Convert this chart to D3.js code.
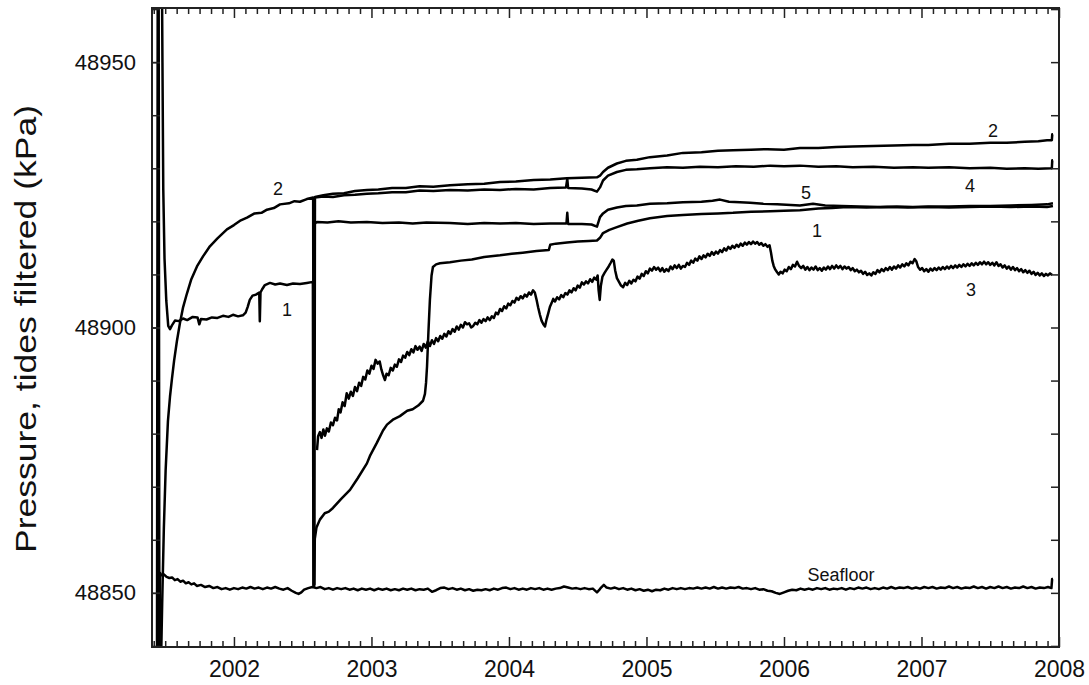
<!DOCTYPE html>
<html>
<head>
<meta charset="utf-8">
<script src="https://cdn.jsdelivr.net/npm/d3@7"></script>
<style>
  body { margin: 0; background: #fff; }
  svg { display: block; }
  text { font-family: "Liberation Sans", Arial, Helvetica, sans-serif; fill: #111; }
</style>
</head>
<body>
<svg id="chart" width="1089" height="685"></svg>
<script>
// ---- Axis ticks -------------------------------------------------------
const yearTicks = [2002, 2003, 2004, 2005, 2006, 2007, 2008];
const yearLabels = ["2002", "2003", "2004", "2005", "2006", "2007", "2008"];
const pressureTicks = [48850, 48900, 48950];
const pressureLabels = ["48850", "48900", "48950"];
const yTitle = "Pressure, tides filtered (kPa)";

// ---- Series: [decimal year, pressure kPa] ------------------------------
const seafloor = [
  [2001.440, 48830], [2001.446, 48975], [2001.452, 48975], [2001.458, 48830],
  [2001.462, 48853.8], [2001.47, 48853.3], [2001.49, 48853.5], [2001.51, 48853.0],
  [2001.53, 48852.8], [2001.55, 48852.9], [2001.57, 48852.4], [2001.59, 48852.6],
  [2001.61, 48852.1], [2001.63, 48852.3], [2001.65, 48851.8], [2001.67, 48852.0],
  [2001.69, 48851.6], [2001.71, 48851.8], [2001.73, 48851.3], [2001.76, 48851.5],
  [2001.79, 48851.1], [2001.82, 48851.3], [2001.85, 48850.9], [2001.88, 48851.1],
  [2001.91, 48850.7], [2001.94, 48850.9], [2001.97, 48850.6], [2002.00, 48850.9],
  [2002.03, 48850.7], [2002.06, 48851.0], [2002.09, 48850.8], [2002.12, 48851.1],
  [2002.15, 48850.8], [2002.18, 48851.0], [2002.21, 48850.7], [2002.24, 48851.0],
  [2002.27, 48850.8], [2002.30, 48851.1], [2002.33, 48850.8], [2002.36, 48850.6],
  [2002.39, 48850.9], [2002.42, 48850.4], [2002.45, 48850.0], [2002.47, 48849.8],
  [2002.49, 48850.1], [2002.51, 48850.6], [2002.54, 48850.9], [2002.57, 48851.1],
  [2002.60, 48850.9], [2002.63, 48851.1], [2002.66, 48850.7], [2002.69, 48850.9],
  [2002.72, 48850.6], [2002.75, 48850.9], [2002.78, 48850.7], [2002.81, 48850.9],
  [2002.84, 48850.6], [2002.87, 48850.8], [2002.90, 48850.5], [2002.93, 48850.8],
  [2002.96, 48850.6], [2002.99, 48850.8], [2003.02, 48850.5], [2003.05, 48850.8],
  [2003.08, 48850.6], [2003.11, 48850.8], [2003.14, 48850.5], [2003.17, 48850.7],
  [2003.20, 48850.5], [2003.23, 48850.8], [2003.26, 48850.6], [2003.29, 48850.8],
  [2003.32, 48850.5], [2003.35, 48850.7], [2003.38, 48850.6], [2003.41, 48850.8],
  [2003.44, 48850.2], [2003.47, 48850.5], [2003.50, 48850.9], [2003.53, 48851.0],
  [2003.56, 48850.7], [2003.59, 48850.9], [2003.62, 48850.6], [2003.65, 48850.8],
  [2003.68, 48850.5], [2003.71, 48850.7], [2003.74, 48850.4], [2003.77, 48850.6],
  [2003.80, 48850.5], [2003.83, 48850.7], [2003.86, 48850.5], [2003.89, 48850.8],
  [2003.92, 48850.6], [2003.95, 48850.9], [2003.98, 48851.0], [2004.01, 48850.7],
  [2004.04, 48850.9], [2004.07, 48850.6], [2004.10, 48850.8], [2004.13, 48850.6],
  [2004.16, 48850.9], [2004.19, 48850.7], [2004.22, 48850.9], [2004.25, 48850.6],
  [2004.28, 48850.8], [2004.31, 48850.6], [2004.34, 48850.8], [2004.37, 48850.9],
  [2004.40, 48851.2], [2004.43, 48851.0], [2004.46, 48850.8], [2004.49, 48850.9],
  [2004.52, 48850.7], [2004.55, 48850.9], [2004.58, 48850.7], [2004.61, 48850.8],
  [2004.64, 48850.1], [2004.655, 48850.5], [2004.67, 48851.0], [2004.69, 48851.5],
  [2004.71, 48851.0], [2004.74, 48850.8], [2004.77, 48851.0], [2004.80, 48850.7],
  [2004.83, 48850.9], [2004.86, 48850.6], [2004.89, 48850.8], [2004.92, 48850.5],
  [2004.95, 48850.7], [2004.98, 48850.4], [2005.01, 48850.6], [2005.04, 48850.3],
  [2005.07, 48850.6], [2005.10, 48850.5], [2005.13, 48850.8], [2005.16, 48850.6],
  [2005.19, 48850.9], [2005.22, 48850.7], [2005.25, 48850.9], [2005.28, 48850.7],
  [2005.31, 48850.9], [2005.34, 48850.8], [2005.37, 48851.0], [2005.40, 48850.8],
  [2005.43, 48851.0], [2005.46, 48850.8], [2005.49, 48851.1], [2005.52, 48850.8],
  [2005.55, 48851.0], [2005.58, 48850.8], [2005.61, 48851.0], [2005.64, 48850.9],
  [2005.67, 48851.1], [2005.70, 48850.8], [2005.73, 48850.9], [2005.76, 48850.7],
  [2005.79, 48850.9], [2005.82, 48850.6], [2005.85, 48850.7], [2005.88, 48850.4],
  [2005.91, 48850.3], [2005.94, 48850.0], [2005.97, 48849.8], [2006.00, 48850.1],
  [2006.03, 48850.4], [2006.06, 48850.6], [2006.09, 48850.5], [2006.12, 48850.8],
  [2006.15, 48850.6], [2006.18, 48850.8], [2006.21, 48850.6], [2006.24, 48850.9],
  [2006.27, 48850.7], [2006.30, 48850.9], [2006.33, 48850.6], [2006.36, 48850.8],
  [2006.39, 48850.7], [2006.42, 48850.9], [2006.45, 48850.6], [2006.48, 48850.9],
  [2006.51, 48850.7], [2006.54, 48851.0], [2006.57, 48850.8], [2006.60, 48851.0],
  [2006.63, 48850.7], [2006.66, 48850.9], [2006.69, 48850.7], [2006.72, 48851.0],
  [2006.75, 48850.8], [2006.78, 48851.1], [2006.81, 48850.8], [2006.84, 48851.0],
  [2006.87, 48850.9], [2006.90, 48851.1], [2006.93, 48850.8], [2006.96, 48851.0],
  [2006.99, 48850.8], [2007.02, 48851.1], [2007.05, 48850.9], [2007.08, 48851.1],
  [2007.11, 48850.8], [2007.14, 48851.0], [2007.17, 48850.9], [2007.20, 48851.2],
  [2007.23, 48850.9], [2007.26, 48851.1], [2007.29, 48850.8], [2007.32, 48851.0],
  [2007.35, 48850.9], [2007.38, 48851.2], [2007.41, 48850.9], [2007.44, 48851.1],
  [2007.47, 48850.8], [2007.50, 48851.1], [2007.53, 48850.9], [2007.56, 48851.2],
  [2007.59, 48850.9], [2007.62, 48851.1], [2007.65, 48850.8], [2007.68, 48851.0],
  [2007.71, 48850.9], [2007.74, 48851.2], [2007.77, 48850.9], [2007.80, 48851.1],
  [2007.83, 48850.8], [2007.86, 48851.0], [2007.89, 48850.9], [2007.92, 48851.1],
  [2007.945, 48850.9], [2007.950, 48852.6], [2007.956, 48852.6]
];

const hole1 = [
  [2001.474, 48975], [2001.480, 48950], [2001.486, 48926], [2001.495, 48913],
  [2001.508, 48905], [2001.522, 48900.3], [2001.535, 48899.7], [2001.549, 48900.4],
  [2001.571, 48901.3], [2001.600, 48901.2], [2001.630, 48901.7], [2001.660, 48901.4],
  [2001.700, 48902.0], [2001.735, 48901.9], [2001.748, 48900.6], [2001.760, 48901.6],
  [2001.800, 48901.5], [2001.840, 48901.9], [2001.880, 48901.8], [2001.920, 48902.2],
  [2001.960, 48902.0], [2001.993, 48902.4], [2002.030, 48902.1], [2002.065, 48902.3],
  [2002.085, 48902.8], [2002.100, 48903.9], [2002.115, 48905.2], [2002.135, 48906.0],
  [2002.160, 48906.2], [2002.184, 48906.6], [2002.188, 48901.2], [2002.193, 48906.6],
  [2002.205, 48907.2], [2002.225, 48908.0], [2002.262, 48908.4], [2002.300, 48908.1],
  [2002.335, 48908.3], [2002.385, 48908.0], [2002.430, 48908.3], [2002.480, 48908.2],
  [2002.530, 48908.4], [2002.574, 48908.6], [2002.578, 48851.2], [2002.583, 48851.2],
  [2002.588, 48860.2], [2002.600, 48862.3], [2002.625, 48863.8], [2002.660, 48865.0],
  [2002.690, 48865.3], [2002.720, 48866.0], [2002.780, 48867.7], [2002.844, 48869.4],
  [2002.900, 48871.6], [2002.967, 48874.4], [2002.989, 48875.8], [2003.040, 48878.3],
  [2003.084, 48880.6], [2003.113, 48881.7], [2003.160, 48882.7], [2003.207, 48883.3],
  [2003.260, 48884.3], [2003.300, 48884.6], [2003.340, 48885.3], [2003.375, 48886.2],
  [2003.389, 48887.5], [2003.397, 48889.6], [2003.404, 48892.6], [2003.414, 48899.0],
  [2003.425, 48905.2], [2003.437, 48909.8], [2003.447, 48911.4], [2003.470, 48911.9],
  [2003.498, 48912.1], [2003.571, 48912.3], [2003.650, 48912.6], [2003.730, 48912.8],
  [2003.820, 48913.3], [2003.935, 48913.6], [2004.020, 48913.9], [2004.100, 48914.1],
  [2004.200, 48914.4], [2004.290, 48914.6], [2004.300, 48915.6], [2004.340, 48915.8],
  [2004.422, 48916.0], [2004.500, 48916.2], [2004.580, 48916.3], [2004.640, 48916.4],
  [2004.662, 48916.9], [2004.684, 48917.8], [2004.730, 48918.4], [2004.785, 48918.9],
  [2004.860, 48919.6], [2004.940, 48920.1], [2005.025, 48920.6], [2005.150, 48921.0],
  [2005.265, 48921.2], [2005.400, 48921.4], [2005.520, 48921.5], [2005.629, 48921.6],
  [2005.760, 48921.8], [2005.900, 48921.9], [2006.000, 48922.0], [2006.116, 48922.1],
  [2006.250, 48922.4], [2006.350, 48922.5], [2006.458, 48922.7], [2006.600, 48922.6],
  [2006.750, 48922.7], [2006.900, 48922.6], [2007.050, 48922.7], [2007.200, 48922.6],
  [2007.350, 48922.7], [2007.500, 48922.8], [2007.650, 48922.7], [2007.800, 48922.8],
  [2007.913, 48922.7], [2007.956, 48922.9]
];

const hole2 = [
  [2001.466, 48832], [2001.478, 48848], [2001.490, 48862], [2001.503, 48873],
  [2001.520, 48882.4], [2001.535, 48887.0], [2001.549, 48890.3], [2001.565, 48893.8],
  [2001.585, 48897.4], [2001.607, 48900.8], [2001.630, 48903.8], [2001.658, 48906.4],
  [2001.690, 48909.1], [2001.731, 48911.5], [2001.775, 48913.4], [2001.825, 48915.3],
  [2001.880, 48916.8], [2001.949, 48918.5], [2002.000, 48919.3], [2002.050, 48920.2],
  [2002.095, 48920.7], [2002.150, 48921.5], [2002.200, 48921.6], [2002.240, 48922.2],
  [2002.290, 48922.5], [2002.335, 48923.2], [2002.400, 48923.4], [2002.440, 48923.8],
  [2002.480, 48923.7], [2002.530, 48924.2], [2002.576, 48924.5], [2002.580, 48851.6],
  [2002.585, 48851.6], [2002.589, 48924.6], [2002.650, 48924.9], [2002.720, 48925.2],
  [2002.800, 48925.3], [2002.880, 48925.7], [2002.967, 48925.9], [2003.050, 48926.0],
  [2003.150, 48926.3], [2003.250, 48926.3], [2003.350, 48926.6], [2003.450, 48926.5],
  [2003.571, 48926.8], [2003.700, 48927.0], [2003.820, 48927.1], [2003.935, 48927.4],
  [2004.050, 48927.5], [2004.180, 48927.8], [2004.300, 48927.9], [2004.420, 48928.1],
  [2004.530, 48928.2], [2004.640, 48928.3], [2004.662, 48928.6], [2004.684, 48929.3],
  [2004.720, 48930.1], [2004.785, 48930.9], [2004.850, 48931.4], [2004.930, 48931.6],
  [2005.025, 48932.1], [2005.150, 48932.4], [2005.265, 48932.9], [2005.400, 48933.0],
  [2005.520, 48933.3], [2005.629, 48933.4], [2005.760, 48933.5], [2005.880, 48933.6],
  [2006.000, 48933.5], [2006.116, 48933.8], [2006.250, 48933.8], [2006.380, 48934.0],
  [2006.500, 48934.1], [2006.650, 48934.2], [2006.800, 48934.3], [2006.938, 48934.4],
  [2007.050, 48934.4], [2007.200, 48934.6], [2007.350, 48934.6], [2007.500, 48934.8],
  [2007.620, 48934.8], [2007.750, 48935.0], [2007.850, 48935.1], [2007.913, 48935.3],
  [2007.948, 48935.3], [2007.951, 48936.4], [2007.956, 48936.4]
];

const hole3 = [
  [2002.604, 48876.9], [2002.612, 48879.5], [2002.625, 48880.3], [2002.637, 48879.2],
  [2002.650, 48880.8], [2002.662, 48879.6], [2002.676, 48881.0], [2002.690, 48880.4],
  [2002.705, 48882.1], [2002.720, 48881.6], [2002.735, 48883.0], [2002.750, 48882.5],
  [2002.762, 48884.6], [2002.775, 48884.0], [2002.790, 48885.9], [2002.805, 48885.2],
  [2002.820, 48887.6], [2002.835, 48886.6], [2002.850, 48887.9], [2002.865, 48887.1],
  [2002.880, 48888.8], [2002.895, 48888.0], [2002.910, 48889.6], [2002.925, 48889.0],
  [2002.940, 48890.7], [2002.955, 48890.2], [2002.970, 48891.9], [2002.985, 48891.3],
  [2003.000, 48892.8], [2003.015, 48892.2], [2003.030, 48893.9], [2003.045, 48893.2],
  [2003.060, 48893.6], [2003.072, 48892.1], [2003.085, 48891.0], [2003.098, 48890.1],
  [2003.110, 48891.3], [2003.125, 48891.0], [2003.140, 48892.4], [2003.155, 48891.9],
  [2003.170, 48893.0], [2003.185, 48892.6], [2003.200, 48894.0], [2003.215, 48893.5],
  [2003.230, 48894.7], [2003.245, 48894.3], [2003.260, 48895.4], [2003.275, 48894.8],
  [2003.290, 48895.9], [2003.305, 48895.3], [2003.320, 48896.5], [2003.335, 48895.8],
  [2003.350, 48896.4], [2003.365, 48895.6], [2003.380, 48896.9], [2003.395, 48896.2],
  [2003.410, 48897.4], [2003.425, 48896.5], [2003.440, 48897.6], [2003.455, 48896.9],
  [2003.470, 48898.0], [2003.485, 48897.4], [2003.500, 48898.4], [2003.515, 48897.9],
  [2003.530, 48898.8], [2003.545, 48898.3], [2003.560, 48899.3], [2003.575, 48898.8],
  [2003.590, 48899.7], [2003.605, 48899.2], [2003.620, 48900.2], [2003.635, 48899.6],
  [2003.650, 48900.5], [2003.665, 48900.0], [2003.680, 48901.0], [2003.695, 48900.6],
  [2003.710, 48900.8], [2003.725, 48900.0], [2003.740, 48900.3], [2003.755, 48900.9],
  [2003.770, 48900.6], [2003.785, 48901.4], [2003.800, 48900.9], [2003.815, 48901.6],
  [2003.830, 48901.2], [2003.845, 48901.9], [2003.860, 48901.4], [2003.875, 48902.1],
  [2003.890, 48901.8], [2003.905, 48902.8], [2003.920, 48902.5], [2003.935, 48903.5],
  [2003.950, 48903.1], [2003.965, 48904.0], [2003.980, 48903.6], [2003.995, 48904.5],
  [2004.010, 48904.2], [2004.025, 48905.0], [2004.040, 48904.7], [2004.055, 48905.6],
  [2004.070, 48905.2], [2004.085, 48905.9], [2004.100, 48905.5], [2004.115, 48906.2],
  [2004.130, 48905.8], [2004.145, 48906.6], [2004.160, 48906.2], [2004.175, 48907.0],
  [2004.188, 48906.6], [2004.200, 48905.3], [2004.212, 48903.8], [2004.225, 48902.4],
  [2004.237, 48901.3], [2004.250, 48900.6], [2004.262, 48900.2], [2004.273, 48901.5],
  [2004.285, 48902.6], [2004.298, 48903.9], [2004.310, 48904.6], [2004.322, 48905.4],
  [2004.335, 48904.9], [2004.350, 48905.7], [2004.365, 48905.3], [2004.380, 48906.1],
  [2004.395, 48905.7], [2004.410, 48906.5], [2004.425, 48906.2], [2004.440, 48907.0],
  [2004.455, 48906.6], [2004.470, 48907.4], [2004.485, 48907.0], [2004.500, 48907.9],
  [2004.515, 48907.5], [2004.530, 48908.5], [2004.545, 48908.1], [2004.560, 48908.7],
  [2004.575, 48908.3], [2004.590, 48909.1], [2004.605, 48908.6], [2004.620, 48909.4],
  [2004.635, 48909.0], [2004.645, 48909.8], [2004.652, 48907.0], [2004.660, 48905.2],
  [2004.668, 48907.8], [2004.680, 48909.6], [2004.695, 48910.3], [2004.710, 48910.9],
  [2004.725, 48911.5], [2004.740, 48912.2], [2004.752, 48912.8], [2004.762, 48912.6],
  [2004.772, 48910.8], [2004.785, 48909.3], [2004.800, 48908.6], [2004.815, 48907.9],
  [2004.830, 48907.6], [2004.845, 48908.4], [2004.860, 48908.0], [2004.875, 48908.8],
  [2004.890, 48908.3], [2004.905, 48909.0], [2004.920, 48908.7], [2004.935, 48909.6],
  [2004.950, 48909.2], [2004.965, 48910.1], [2004.980, 48909.7], [2004.995, 48910.6],
  [2005.010, 48910.2], [2005.025, 48911.1], [2005.040, 48910.7], [2005.055, 48911.4],
  [2005.070, 48910.9], [2005.085, 48911.3], [2005.100, 48910.6], [2005.115, 48911.2],
  [2005.130, 48910.5], [2005.145, 48911.0], [2005.160, 48910.6], [2005.175, 48911.5],
  [2005.190, 48911.0], [2005.205, 48911.7], [2005.220, 48911.2], [2005.235, 48911.8],
  [2005.250, 48911.1], [2005.265, 48911.6], [2005.280, 48911.4], [2005.295, 48912.2],
  [2005.310, 48911.8], [2005.325, 48912.6], [2005.340, 48912.2], [2005.355, 48913.0],
  [2005.370, 48912.6], [2005.385, 48913.4], [2005.400, 48912.9], [2005.415, 48913.6],
  [2005.430, 48913.2], [2005.445, 48913.9], [2005.460, 48913.5], [2005.475, 48914.2],
  [2005.490, 48913.7], [2005.505, 48914.3], [2005.520, 48913.9], [2005.535, 48914.6],
  [2005.550, 48914.2], [2005.565, 48914.9], [2005.580, 48914.5], [2005.595, 48915.2],
  [2005.610, 48914.8], [2005.625, 48915.4], [2005.640, 48915.0], [2005.655, 48915.6],
  [2005.670, 48915.2], [2005.685, 48915.8], [2005.700, 48915.4], [2005.715, 48916.0],
  [2005.730, 48915.6], [2005.745, 48916.1], [2005.760, 48915.7], [2005.775, 48916.2],
  [2005.790, 48915.8], [2005.805, 48916.1], [2005.820, 48915.6], [2005.835, 48915.9],
  [2005.850, 48915.4], [2005.865, 48915.7], [2005.880, 48915.2], [2005.895, 48915.5],
  [2005.905, 48914.2], [2005.915, 48912.6], [2005.925, 48911.6], [2005.937, 48910.9],
  [2005.950, 48910.4], [2005.962, 48910.0], [2005.975, 48910.5], [2005.990, 48910.2],
  [2006.005, 48910.9], [2006.020, 48910.6], [2006.035, 48911.4], [2006.050, 48911.0],
  [2006.065, 48911.8], [2006.080, 48911.5], [2006.095, 48912.4], [2006.110, 48911.6],
  [2006.125, 48911.2], [2006.140, 48911.6], [2006.155, 48910.9], [2006.170, 48911.4],
  [2006.185, 48910.8], [2006.200, 48911.3], [2006.215, 48910.9], [2006.230, 48911.5],
  [2006.245, 48910.8], [2006.260, 48911.2], [2006.275, 48910.7], [2006.290, 48911.3],
  [2006.305, 48910.9], [2006.320, 48911.5], [2006.335, 48911.0], [2006.350, 48911.6],
  [2006.365, 48911.1], [2006.380, 48911.7], [2006.395, 48911.2], [2006.410, 48911.6],
  [2006.425, 48911.0], [2006.440, 48911.5], [2006.455, 48911.1], [2006.470, 48911.4],
  [2006.485, 48910.8], [2006.500, 48911.2], [2006.515, 48910.6], [2006.530, 48910.9],
  [2006.545, 48910.4], [2006.560, 48910.7], [2006.575, 48910.1], [2006.590, 48910.5],
  [2006.605, 48909.9], [2006.620, 48910.2], [2006.635, 48909.8], [2006.650, 48910.4],
  [2006.665, 48910.1], [2006.680, 48910.8], [2006.695, 48910.4], [2006.710, 48911.0],
  [2006.725, 48910.6], [2006.740, 48911.2], [2006.755, 48910.8], [2006.770, 48911.4],
  [2006.785, 48910.9], [2006.800, 48911.5], [2006.815, 48911.1], [2006.830, 48911.7],
  [2006.845, 48911.3], [2006.860, 48911.9], [2006.875, 48911.5], [2006.890, 48912.1],
  [2006.905, 48911.7], [2006.920, 48912.4], [2006.935, 48912.1], [2006.950, 48912.9],
  [2006.962, 48912.5], [2006.975, 48911.4], [2006.990, 48910.9], [2007.005, 48911.2],
  [2007.020, 48910.6], [2007.035, 48911.0], [2007.050, 48910.5], [2007.065, 48911.1],
  [2007.080, 48910.7], [2007.095, 48911.2], [2007.110, 48910.8], [2007.125, 48911.3],
  [2007.140, 48910.9], [2007.155, 48911.4], [2007.170, 48911.0], [2007.185, 48911.5],
  [2007.200, 48911.1], [2007.215, 48911.6], [2007.230, 48911.2], [2007.245, 48911.7],
  [2007.260, 48911.3], [2007.275, 48911.8], [2007.290, 48911.4], [2007.305, 48911.9],
  [2007.320, 48911.5], [2007.335, 48912.0], [2007.350, 48911.6], [2007.365, 48912.1],
  [2007.380, 48911.7], [2007.395, 48912.2], [2007.410, 48911.8], [2007.425, 48912.3],
  [2007.440, 48911.9], [2007.455, 48912.4], [2007.470, 48911.9], [2007.485, 48912.3],
  [2007.500, 48911.8], [2007.515, 48912.2], [2007.530, 48911.7], [2007.545, 48912.3],
  [2007.560, 48911.6], [2007.575, 48911.9], [2007.590, 48911.3], [2007.605, 48911.7],
  [2007.620, 48911.1], [2007.635, 48911.5], [2007.650, 48910.9], [2007.665, 48911.4],
  [2007.680, 48910.8], [2007.695, 48911.2], [2007.710, 48910.6], [2007.725, 48911.0],
  [2007.740, 48910.4], [2007.755, 48910.8], [2007.770, 48910.3], [2007.785, 48910.7],
  [2007.800, 48910.1], [2007.815, 48910.5], [2007.830, 48909.9], [2007.845, 48910.3],
  [2007.860, 48909.8], [2007.875, 48910.2], [2007.890, 48909.7], [2007.905, 48910.1],
  [2007.920, 48909.8], [2007.935, 48910.2], [2007.950, 48909.9]
];

const hole4 = [
  [2002.589, 48924.5], [2002.650, 48924.7], [2002.720, 48924.6], [2002.800, 48924.9],
  [2002.880, 48925.0], [2002.967, 48925.2], [2003.050, 48925.3], [2003.150, 48925.5],
  [2003.250, 48925.5], [2003.350, 48925.8], [2003.450, 48925.7], [2003.571, 48925.9],
  [2003.700, 48925.8], [2003.820, 48926.0], [2003.935, 48925.9], [2004.050, 48926.1],
  [2004.180, 48926.0], [2004.300, 48926.3], [2004.415, 48926.4], [2004.424, 48928.0],
  [2004.430, 48926.3], [2004.530, 48926.2], [2004.600, 48926.0], [2004.640, 48925.6],
  [2004.662, 48926.4], [2004.684, 48927.7], [2004.720, 48928.6], [2004.785, 48929.3],
  [2004.850, 48929.7], [2004.930, 48929.8], [2005.025, 48930.0], [2005.150, 48930.2],
  [2005.265, 48930.1], [2005.389, 48930.3], [2005.520, 48930.2], [2005.650, 48930.4],
  [2005.780, 48930.3], [2005.900, 48930.5], [2006.000, 48930.4], [2006.116, 48930.5],
  [2006.250, 48930.3], [2006.380, 48930.4], [2006.500, 48930.2], [2006.650, 48930.3],
  [2006.800, 48930.1], [2006.938, 48930.2], [2007.050, 48930.1], [2007.200, 48930.2],
  [2007.350, 48930.0], [2007.500, 48930.1], [2007.620, 48929.9], [2007.750, 48930.0],
  [2007.850, 48929.9], [2007.948, 48930.0], [2007.951, 48931.5], [2007.956, 48931.5]
];

const hole5 = [
  [2002.589, 48919.6], [2002.604, 48919.9], [2002.680, 48919.8], [2002.760, 48920.0],
  [2002.850, 48919.8], [2002.967, 48919.9], [2003.080, 48919.7], [2003.200, 48919.8],
  [2003.300, 48919.6], [2003.400, 48919.8], [2003.571, 48919.7], [2003.700, 48919.5],
  [2003.820, 48919.7], [2003.935, 48919.6], [2004.050, 48919.7], [2004.180, 48919.5],
  [2004.300, 48919.6], [2004.418, 48919.6], [2004.424, 48921.6], [2004.430, 48919.5],
  [2004.530, 48919.5], [2004.600, 48919.4], [2004.640, 48919.0], [2004.662, 48920.8],
  [2004.684, 48921.5], [2004.720, 48922.2], [2004.785, 48922.6], [2004.850, 48922.9],
  [2004.930, 48923.0], [2005.025, 48923.3], [2005.150, 48923.4], [2005.265, 48923.6],
  [2005.400, 48923.7], [2005.480, 48923.9], [2005.535, 48924.1], [2005.600, 48923.7],
  [2005.680, 48923.6], [2005.753, 48923.5], [2005.850, 48923.3], [2005.950, 48923.2],
  [2006.050, 48923.1], [2006.116, 48923.0], [2006.211, 48923.3], [2006.300, 48923.0],
  [2006.420, 48922.9], [2006.550, 48922.8], [2006.700, 48922.7], [2006.820, 48922.8],
  [2006.938, 48922.7], [2007.050, 48922.8], [2007.200, 48922.8], [2007.350, 48922.9],
  [2007.500, 48922.9], [2007.650, 48923.0], [2007.800, 48923.1], [2007.913, 48923.2],
  [2007.956, 48923.4]
];

// Curve labels: text, decimal year, pressure (kPa)
const curveLabels = [
  ["2", 2002.320, 48926.1],
  ["1", 2002.385, 48903.3],
  ["2", 2007.520, 48937.0],
  ["4", 2007.353, 48926.6],
  ["5", 2006.160, 48925.3],
  ["1", 2006.240, 48918.2],
  ["3", 2007.360, 48907.1],
  ["Seafloor", 2006.415, 48853.4]
];

// ---- Layout -----------------------------------------------------------
const svg = d3.select("#chart");
const box = { left: 152, right: 1059, top: 8, bottom: 647 };

const x = d3.scaleLinear().domain([2001.404, 2008]).range([box.left, box.right]);
const y = d3.scaleLinear().domain([48839.8, 48960.2]).range([box.bottom, box.top]);

svg.append("rect").attr("width", 1089).attr("height", 685).attr("fill", "#fff");

svg.append("clipPath").attr("id", "plot-clip")
  .append("rect")
  .attr("x", box.left).attr("y", box.top)
  .attr("width", box.right - box.left).attr("height", box.bottom - box.top);

// ---- Data curves ------------------------------------------------------
const line = d3.line().x(d => x(d[0])).y(d => y(d[1]));
const curves = svg.append("g").attr("clip-path", "url(#plot-clip)");
[seafloor, hole1, hole2, hole3, hole4, hole5].forEach(series => {
  curves.append("path")
    .datum(series)
    .attr("d", line)
    .attr("fill", "none")
    .attr("stroke", "#000")
    .attr("stroke-width", 2.5)
    .attr("stroke-linejoin", "round");
});

// ---- Axes (ticks point inward on all four sides) ----------------------
const [x0, x1] = x.domain();
const monthTicks = d3.range(2001 * 12, 2008 * 12)
  .map(m => m / 12)
  .filter(v => v > x0 && v < x1 && Math.abs(v - Math.round(v)) > 1e-6);
const tenTicks = d3.range(48840, 48961, 10).filter(v => v > y.domain()[0] && v < y.domain()[1]);

function styleAxis(g) {
  g.select(".domain").remove();
  g.selectAll(".tick line").attr("stroke", "#222").attr("stroke-width", 1.5);
}

// bottom
svg.append("g").attr("transform", `translate(0,${box.bottom})`)
  .call(d3.axisBottom(x).tickValues(monthTicks).tickSize(-6).tickFormat(""))
  .call(styleAxis);
svg.append("g").attr("transform", `translate(0,${box.bottom})`)
  .call(d3.axisBottom(x).tickValues(yearTicks).tickSize(-10).tickPadding(14)
    .tickFormat((d, i) => yearLabels[i]))
  .call(styleAxis)
  .call(g => g.selectAll("text").attr("font-size", 23).attr("fill", "#111"));

// top
svg.append("g").attr("transform", `translate(0,${box.top})`)
  .call(d3.axisTop(x).tickValues(monthTicks).tickSize(-6).tickFormat(""))
  .call(styleAxis);
svg.append("g").attr("transform", `translate(0,${box.top})`)
  .call(d3.axisTop(x).tickValues(yearTicks).tickSize(-10).tickFormat(""))
  .call(styleAxis);

// left
svg.append("g").attr("transform", `translate(${box.left},0)`)
  .call(d3.axisLeft(y).tickValues(tenTicks).tickSize(-8).tickFormat(""))
  .call(styleAxis);
svg.append("g").attr("transform", `translate(${box.left},0)`)
  .call(d3.axisLeft(y).tickValues(pressureTicks).tickSize(-8).tickPadding(16)
    .tickFormat((d, i) => pressureLabels[i]))
  .call(styleAxis)
  .call(g => g.selectAll("text").attr("font-size", 22).attr("fill", "#111"));

// right
svg.append("g").attr("transform", `translate(${box.right},0)`)
  .call(d3.axisRight(y).tickValues(tenTicks).tickSize(-8).tickFormat(""))
  .call(styleAxis);

// frame
svg.append("rect")
  .attr("x", box.left).attr("y", box.top)
  .attr("width", box.right - box.left).attr("height", box.bottom - box.top)
  .attr("fill", "none").attr("stroke", "#222").attr("stroke-width", 2);

// y title
svg.append("text")
  .attr("transform", "translate(36,329) rotate(-90)")
  .attr("text-anchor", "middle")
  .attr("font-size", 30)
  .attr("textLength", 448)
  .attr("lengthAdjust", "spacingAndGlyphs")
  .text(yTitle);

// curve labels
svg.append("g").selectAll("text")
  .data(curveLabels)
  .join("text")
  .attr("x", d => x(d[1]))
  .attr("y", d => y(d[2]))
  .attr("text-anchor", "middle")
  .attr("dominant-baseline", "central")
  .attr("font-size", 18)
  .text(d => d[0]);
</script>
</body>
</html>
